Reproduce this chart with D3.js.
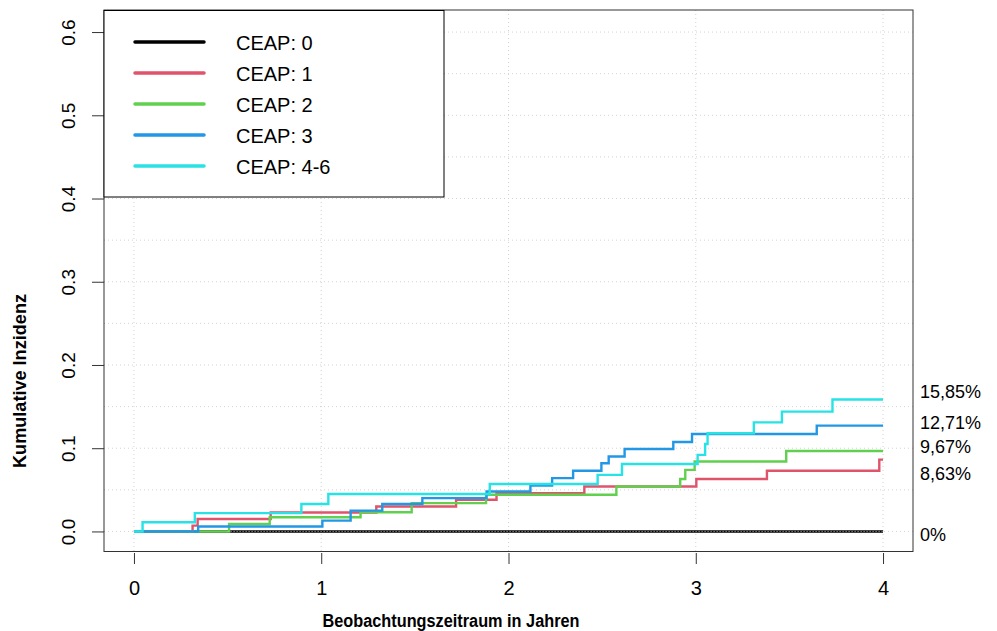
<!DOCTYPE html>
<html>
<head>
<meta charset="utf-8">
<script src="https://cdn.jsdelivr.net/npm/d3@7"></script>
<style>
  body { margin: 0; background: #fff; }
  text { font-family: "Liberation Sans", Arial, sans-serif; }
</style>
</head>
<body>
<div id="chart"></div>
<script>
// step points: [years, cumulative incidence]
const ceap0 = [[0, 0], [4, 0]];
const ceap1 = [[0, 0], [0.313, 0.007], [0.34, 0.015], [0.73, 0.0227], [1.294, 0.030], [1.72, 0.038],
  [1.936, 0.046], [2.405, 0.054], [3.003, 0.063], [3.38, 0.073], [3.98, 0.0863], [4, 0.0863]];
const ceap2 = [[0, 0], [0.508, 0.009], [0.725, 0.017], [1.21, 0.023], [1.483, 0.034], [1.88, 0.044],
  [2.576, 0.054], [2.917, 0.063], [2.944, 0.074], [2.994, 0.084], [3.483, 0.0967], [4, 0.0967]];
const ceap3 = [[0, 0], [0.343, 0.006], [1.006, 0.013], [1.157, 0.025], [1.326, 0.033], [1.54, 0.040],
  [1.883, 0.048], [2.117, 0.055], [2.233, 0.064], [2.345, 0.073], [2.496, 0.082], [2.535, 0.090],
  [2.62, 0.099], [2.88, 0.1075], [2.98, 0.117], [3.646, 0.1271], [4, 0.1271]];
const ceap46 = [[0, 0], [0.046, 0.011], [0.325, 0.022], [0.894, 0.033], [1.038, 0.045], [1.90, 0.057],
  [2.476, 0.068], [2.606, 0.081], [3.01, 0.092], [3.05, 0.105], [3.063, 0.118], [3.31, 0.131],
  [3.46, 0.144], [3.73, 0.1585], [4, 0.1585]];

const seriesNames = ["CEAP: 0", "CEAP: 1", "CEAP: 2", "CEAP: 3", "CEAP: 4-6"];
const seriesColors = ["#000000", "#DF536B", "#61D04F", "#2297E6", "#28E2E5"];
const finalLabels = ["0%", "8,63%", "9,67%", "12,71%", "15,85%"];
const xTicks = [0, 1, 2, 3, 4];
const yTicks = [0, 0.1, 0.2, 0.3, 0.4, 0.5, 0.6];

const series = [ceap0, ceap1, ceap2, ceap3, ceap46];

const w = 997, h = 631;
const pl = 104, pr = 913, pt = 10, pb = 551.5;

const svg = d3.select("#chart").append("svg")
  .attr("width", w)
  .attr("height", h);

const x = d3.scaleLinear().domain([-0.16, 4.16]).range([pl, pr]);
const y = d3.scaleLinear().domain([-0.0241, 0.6265]).range([pb, pt]);

// grid (R grid(): dotted lightgray)
const grid = svg.append("g")
  .attr("stroke", "#d3d3d3")
  .attr("stroke-dasharray", "1,3")
  .attr("stroke-width", 1);

grid.selectAll("line.v")
  .data(xTicks)
  .enter().append("line")
  .attr("class", "v")
  .attr("x1", d => x(d)).attr("x2", d => x(d))
  .attr("y1", pt).attr("y2", pb);

grid.selectAll("line.h")
  .data(d3.range(0, 0.6001, 0.05))
  .enter().append("line")
  .attr("class", "h")
  .attr("x1", pl).attr("x2", pr)
  .attr("y1", d => y(d)).attr("y2", d => y(d));

// curves
const line = d3.line()
  .x(d => x(d[0]))
  .y(d => y(d[1]))
  .curve(d3.curveStepAfter);

svg.selectAll("path.curve")
  .data(series)
  .enter().append("path")
  .attr("class", "curve")
  .attr("d", line)
  .attr("fill", "none")
  .attr("stroke", (d, i) => seriesColors[i])
  .attr("stroke-width", 2.4);

// dotted grid line on top of the zero line
svg.append("line")
  .attr("x1", x(0.5)).attr("x2", x(4))
  .attr("y1", y(0)).attr("y2", y(0))
  .attr("stroke", "#bbb")
  .attr("stroke-dasharray", "1,2")
  .attr("stroke-width", 1);

// box
svg.append("rect")
  .attr("x", pl).attr("y", pt)
  .attr("width", pr - pl).attr("height", pb - pt)
  .attr("fill", "none")
  .attr("stroke", "#333")
  .attr("stroke-width", 1);

// axes
const xAxis = d3.axisBottom(x).tickValues(xTicks).tickFormat(d3.format("d")).tickSize(11).tickPadding(17);
const gx = svg.append("g")
  .attr("transform", `translate(0, ${pb + 1.5})`)
  .call(xAxis);
gx.select(".domain").remove();
gx.selectAll("line").attr("stroke", "#333");
gx.selectAll("text").attr("font-size", 20).attr("fill", "#000")
  .attr("font-family", "Liberation Sans, Arial, sans-serif");

const yAxis = d3.axisLeft(y).tickValues(yTicks).tickFormat(d3.format(".1f")).tickSize(12).tickPadding(0);
const gy = svg.append("g")
  .attr("transform", `translate(${pl}, 0)`)
  .call(yAxis);
gy.select(".domain").remove();
gy.selectAll("line").attr("stroke", "#333");
gy.selectAll("text")
  .attr("font-size", 19)
  .attr("fill", "#000")
  .attr("font-family", "Liberation Sans, Arial, sans-serif")
  .attr("x", null).attr("dy", null)
  .attr("text-anchor", "middle")
  .attr("transform", "translate(-36,0) rotate(-90) translate(0,7)");

// axis titles
svg.append("text")
  .attr("x", 451).attr("y", 627)
  .attr("text-anchor", "middle")
  .attr("font-size", 18)
  .attr("font-weight", "bold")
  .attr("textLength", 257)
  .attr("lengthAdjust", "spacingAndGlyphs")
  .text("Beobachtungszeitraum in Jahren");

svg.append("text")
  .attr("transform", "translate(26,381) rotate(-90)")
  .attr("text-anchor", "middle")
  .attr("font-size", 18)
  .attr("font-weight", "bold")
  .attr("textLength", 174)
  .attr("lengthAdjust", "spacingAndGlyphs")
  .text("Kumulative Inzidenz");

// final percentages right of the plot
const labelY = [541, 480, 453, 429, 398];
svg.selectAll("text.final")
  .data(finalLabels)
  .enter().append("text")
  .attr("class", "final")
  .attr("x", 920)
  .attr("y", (d, i) => labelY[i])
  .attr("font-size", 18)
  .text(d => d);

// legend
const legend = svg.append("g");
legend.append("rect")
  .attr("x", pl).attr("y", pt + 0.5)
  .attr("width", 340).attr("height", 186.5)
  .attr("fill", "#fff")
  .attr("stroke", "#000")
  .attr("stroke-width", 1);

const rowY = d3.scalePoint().domain(seriesNames).range([42, 166]);

legend.selectAll("line.key")
  .data(seriesNames)
  .enter().append("line")
  .attr("class", "key")
  .attr("x1", 135).attr("x2", 204)
  .attr("y1", d => rowY(d)).attr("y2", d => rowY(d))
  .attr("stroke", (d, i) => seriesColors[i])
  .attr("stroke-width", 3.5)
  .attr("stroke-linecap", "round");

legend.selectAll("text.key")
  .data(seriesNames)
  .enter().append("text")
  .attr("class", "key")
  .attr("x", 236)
  .attr("y", d => rowY(d) + 7.5)
  .attr("font-size", 20)
  .text(d => d);
</script>
</body>
</html>
